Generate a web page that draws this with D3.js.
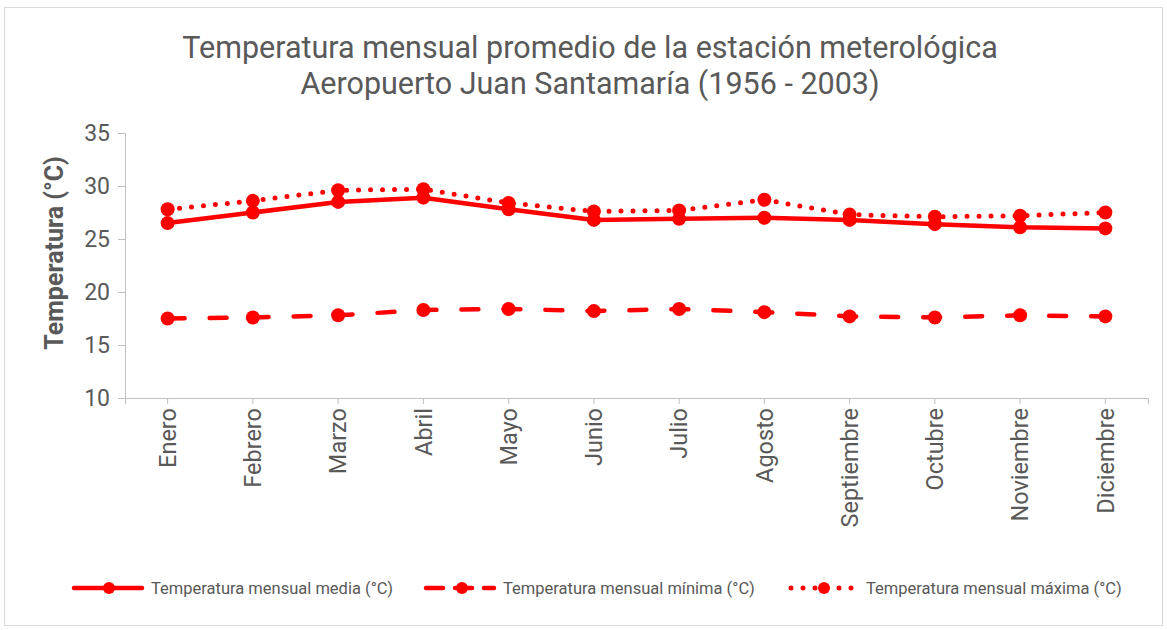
<!DOCTYPE html>
<html>
<head>
<meta charset="utf-8">
<script src="https://cdn.jsdelivr.net/npm/d3@7"></script>
<style>
  body { margin: 0; background: #fff; }
  text { font-family: Roboto, "Liberation Sans", sans-serif; fill: #595959; }
</style>
</head>
<body>
<div id="chart"></div>
<script>
var months = ["Enero", "Febrero", "Marzo", "Abril", "Mayo", "Junio", "Julio",
  "Agosto", "Septiembre", "Octubre", "Noviembre", "Diciembre"];
var media = [26.5, 27.5, 28.5, 28.9, 27.8, 26.8, 26.9, 27.0, 26.8, 26.4, 26.1, 26.0];
var minima = [17.5, 17.6, 17.8, 18.3, 18.4, 18.2, 18.4, 18.1, 17.7, 17.6, 17.8, 17.7];
var maxima = [27.8, 28.6, 29.6, 29.7, 28.4, 27.6, 27.7, 28.7, 27.3, 27.1, 27.2, 27.5];
var yTicks = [10, 15, 20, 25, 30, 35];
var seriesNames = ["Temperatura mensual media (°C)", "Temperatura mensual mínima (°C)",
  "Temperatura mensual máxima (°C)"];

var width = 1167, height = 630;
var red = "#ff0000";

var svg = d3.select("#chart")
  .append("svg")
  .attr("width", width)
  .attr("height", height);

// chart border
svg.append("rect")
  .attr("x", 4.5).attr("y", 7.5)
  .attr("width", 1158).attr("height", 618)
  .attr("fill", "#fff")
  .attr("stroke", "#d9d9d9");

var x = d3.scaleBand().domain(months).range([125, 1148]);
var y = d3.scaleLinear().domain([10, 35]).range([398, 133]);
var cx = function (m) { return x(m) + x.bandwidth() / 2; };

// title
var title = svg.append("text")
  .attr("text-anchor", "middle")
  .style("font-size", "30.5px");
title.append("tspan").attr("x", 590).attr("y", 58)
  .text("Temperatura mensual promedio de la estación meterológica");
title.append("tspan").attr("x", 590).attr("y", 94)
  .text("Aeropuerto Juan Santamaría (1956 - 2003)");

// y axis
var yAxis = svg.append("g")
  .attr("transform", "translate(125,0)")
  .call(d3.axisLeft(y).tickValues(yTicks).tickSize(7).tickPadding(8));
yAxis.select(".domain").attr("stroke", "#bfbfbf");
yAxis.selectAll(".tick line").attr("stroke", "#bfbfbf");
yAxis.selectAll(".tick text")
  .style("font-size", "23px")
  .attr("fill", "#595959");

// x axis
var xAxis = svg.append("g")
  .attr("transform", "translate(0,398)")
  .call(d3.axisBottom(x).tickSizeOuter(6).tickSize(6));
xAxis.select(".domain").attr("stroke", "#bfbfbf");
xAxis.selectAll(".tick line").attr("stroke", "#bfbfbf");
xAxis.selectAll(".tick text")
  .style("font-size", "23.5px")
  .attr("fill", "#595959")
  .attr("text-anchor", "end")
  .attr("transform", "rotate(-90)")
  .attr("x", -10)
  .attr("y", 0)
  .attr("dy", "0.35em");

// y axis title
svg.append("text")
  .attr("transform", "translate(63,253) rotate(-90)")
  .attr("text-anchor", "middle")
  .style("font-size", "25px")
  .style("font-weight", "bold")
  .text("Temperatura (°C)");

var line = d3.line()
  .x(function (d, i) { return cx(months[i]); })
  .y(function (d) { return y(d); });

var styles = [
  { data: media, dash: null },
  { data: minima, dash: "17,25" },
  { data: maxima, dash: "0,12" }
];

styles.forEach(function (s) {
  svg.append("path")
    .datum(s.data)
    .attr("fill", "none")
    .attr("stroke", red)
    .attr("stroke-width", s.dash === "0,12" ? 5 : 4.5)
    .attr("stroke-linecap", "round")
    .attr("stroke-linejoin", "round")
    .attr("stroke-dasharray", s.dash)
    .attr("d", line);

  svg.append("g")
    .selectAll("circle")
    .data(s.data)
    .enter()
    .append("circle")
    .attr("cx", function (d, i) { return cx(months[i]); })
    .attr("cy", function (d) { return y(d); })
    .attr("r", 7)
    .attr("fill", red);
});

// legend
var legendX = [74, 426, 789];
var legend = svg.append("g");
seriesNames.forEach(function (name, i) {
  var g = legend.append("g").attr("transform", "translate(" + legendX[i] + ",588)");
  g.append("line")
    .attr("x1", i === 2 ? 2 : 0).attr("x2", i === 2 ? 65 : 68)
    .attr("y1", 0).attr("y2", 0)
    .attr("stroke", red)
    .attr("stroke-width", i === 2 ? 5 : 4.5)
    .attr("stroke-linecap", "round")
    .attr("stroke-dasharray", styles[i].dash === null ? null : (i === 1 ? "17,12" : "0,12"));
  g.append("circle")
    .attr("cx", [35, 36, 35][i]).attr("cy", 0).attr("r", 6)
    .attr("fill", red);
  g.append("text")
    .attr("x", 77)
    .attr("y", 0)
    .attr("dy", "0.35em")
    .style("font-size", "16.5px")
    .text(name);
});
</script>
</body>
</html>
